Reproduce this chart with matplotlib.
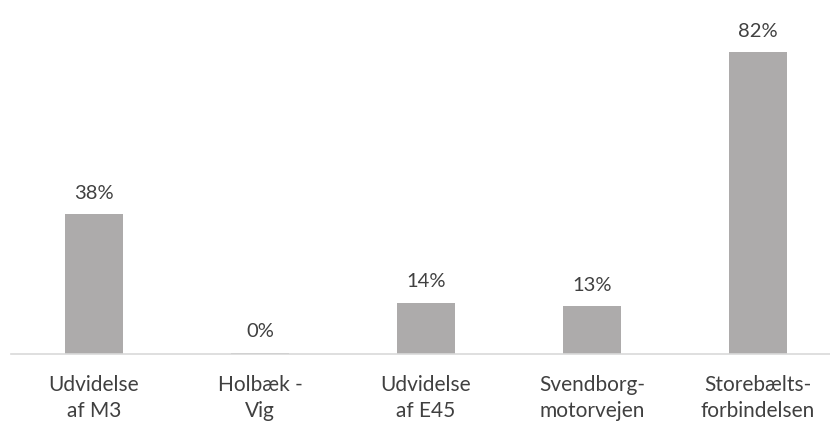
import matplotlib.pyplot as plt

projekter = ["Udvidelse\naf M3", "Holbæk -\nVig", "Udvidelse\naf E45",
             "Svendborg-\nmotorvejen", "Storebælts-\nforbindelsen"]
andel = [38, 0.4, 14, 13, 82]

plt.rcParams['font.family'] = ['Lato', 'DejaVu Sans']
tekst = '#404040'

fig = plt.figure(figsize=(8.3, 4.25), dpi=100)
ax = fig.add_axes([11 / 830, 71 / 425, 1.0, 331 / 425])

x = range(len(projekter))
bars = ax.bar(x, andel, width=0.35, color='#ADABAB')
for b, v in zip(bars, andel):
    ax.annotate(f"{v:.0f}%", (b.get_x() + b.get_width() / 2, b.get_height()),
                xytext=(0, 9), textcoords='offset points', ha='center', va='bottom',
                fontsize=14.5, color=tekst)

ax.set_xlim(-0.5, 4.5)
ax.set_ylim(0, 90)
ax.set_xticks(list(x))
ax.set_xticklabels(projekter, fontsize=15, color=tekst, linespacing=1.4)
ax.tick_params(axis='x', length=0, pad=15)
ax.set_yticks([])
for s in ['top', 'right', 'left']:
    ax.spines[s].set_visible(False)
ax.spines['bottom'].set_color('#D9D9D9')
ax.spines['bottom'].set_linewidth(1.2)

fig.savefig('out.png', dpi=100)
